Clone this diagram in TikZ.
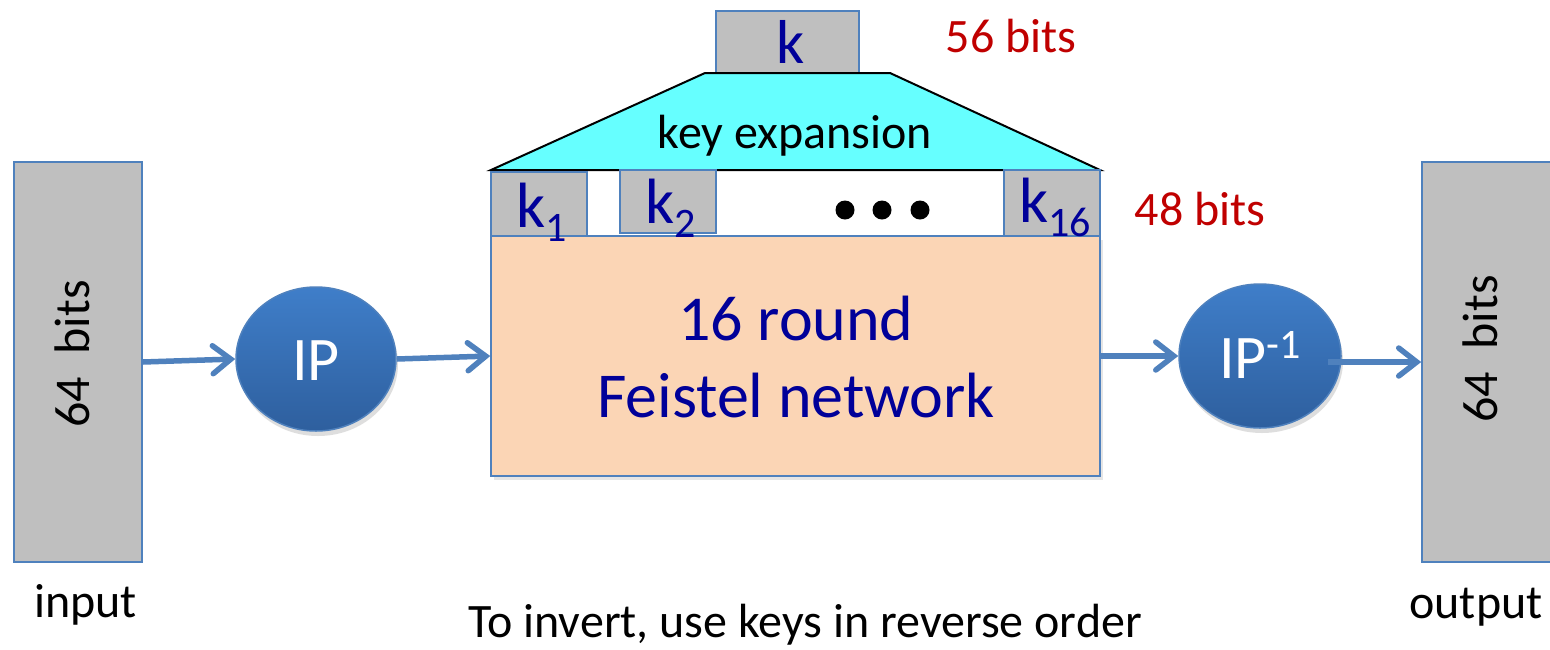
\documentclass[tikz,border=0pt]{standalone}
\usepackage{fontspec}
\setmainfont{Carlito}
\usetikzlibrary{arrows.meta,calc,shapes.geometric}

\definecolor{boxgray}{HTML}{BFBFBF}
\definecolor{edgeblue}{HTML}{4F81BD}
\definecolor{navytext}{HTML}{000099}
\definecolor{bitsred}{HTML}{C00000}
\definecolor{peach}{HTML}{FBD5B5}
\definecolor{keycyan}{HTML}{66FFFF}
\definecolor{balltop}{HTML}{3F7EC9}
\definecolor{ballbot}{HTML}{2E5F9E}

\newcommand\fsz[1]{\fontsize{#1}{#1}\selectfont}
\newcommand\ksub[1]{k\raisebox{-14pt}{\fsz{42}#1}}

\tikzset{
  graybox/.style={draw=edgeblue, line width=1.6pt, fill=boxgray, inner sep=0pt},
  ball/.style={ellipse, minimum width=160pt, minimum height=144pt, inner sep=0pt,
    draw=edgeblue, line width=1.5pt, top color=balltop, bottom color=ballbot},
  balltext/.style={text=white, font=\fsz{62}, inner sep=0pt, anchor=base},
  flow/.style={draw=edgeblue, line width=5.5pt,
    -{Straight Barb[length=18pt,width=28pt,line cap=round]}},
  keytext/.style={text=navytext, font=\fsz{64}, inner sep=0pt, anchor=base west},
  bitslabel/.style={text=bitsred, font=\fsz{48}, inner sep=0pt, anchor=base},
  caption/.style={text=black, font=\fsz{48}, inner sep=0pt, anchor=base},
  bigtext/.style={text=navytext, font=\fsz{64}, inner sep=0pt, anchor=base},
}

\begin{document}
\begin{tikzpicture}[x=1pt, y=-1pt]
  % canvas
  \fill[white] (0,0) rectangle (1550,649);
  \useasboundingbox (0,0) rectangle (1550,649);

  % input and output blocks
  \node[graybox, minimum width=128pt, minimum height=400pt] (in) at (78,362) {};
  \node[rotate=90, caption, font=\fsz{50}] (intext) at (89,354) {64\ \ bits};
  \node[graybox, minimum width=130pt, minimum height=400pt] (out) at (1487,362) {};
  \node[rotate=90, caption, font=\fsz{50}] (outtext) at (1497,349) {64\ \ bits};

  % permutations
  \fill[black!25, opacity=0.5] (318,364) ellipse (80pt and 72pt);
  \node[ball] (ip) at (316,359) {};
  \node[balltext] at (316,380) {IP};
  \fill[black!25, opacity=0.5] (1262,361) ellipse (81pt and 72pt);
  \node[ball, minimum width=162pt] (ipinv) at (1260,356) {};
  \node[balltext] at (1260,378) {IP\raisebox{20pt}{\fsz{42}-1}};

  % Feistel network block
  \fill[black!20, opacity=0.5] (494,240) rectangle (1103,480);
  \node[draw=edgeblue, line width=1.5pt, fill=peach, minimum width=609pt,
        minimum height=240pt, inner sep=0pt] (feistel) at (795.5,356) {};
  \node[bigtext] at (796,340) {16 round};
  \node[bigtext] at (796,417) {Feistel network};

  % key expansion
  \node[graybox, minimum width=143pt, minimum height=62pt] (k) at (787.5,42) {};
  \node[keytext, font=\fsz{62}] at (776,63) {k};
  \path[draw=black, line width=2pt, fill=keycyan]
    (705,73) coordinate (ka) -- (890,73) coordinate (kb)
    -- (1100,170) coordinate (kc) -- (491,170) coordinate (kd) -- cycle;
  \node[text=black, font=\fsz{48}, inner sep=0pt, anchor=base] (kexp) at (795,148) {key expansion};

  % round keys
  \node[graybox, minimum width=96pt, minimum height=64pt] (k1) at (539,204) {};
  \node[keytext] at (516,227) {\ksub{1}};
  \node[graybox, minimum width=96pt, minimum height=63pt] (k2) at (668,201.5) {};
  \node[keytext] at (645,223) {\ksub{2}};
  \node[graybox, minimum width=96pt, minimum height=66pt] (k16) at (1052,203) {};
  \node[keytext] at (1019,222) {\ksub{16}};
  \foreach \x/\n in {845/d1,882/d2,920/d3}
    \fill[black] (\x,210) circle (9.5pt) coordinate (\n);

  % sizes
  \node[bitslabel] (b56) at (1011,52) {56 bits};
  \node[bitslabel] (b48) at (1200,225) {48 bits};

  % captions
  \node[caption] (lin) at (85.5,617) {input};
  \node[caption] (lout) at (1476,618) {output};
  \node[caption] (note) at (805,637) {To invert, use keys in reverse order};

  % data flow
  \draw[flow] (in.east) -- (ip.west);
  \draw[flow] (ip.east) -- (feistel.west);
  \draw[flow] (feistel.east) -- (ipinv.west);
  \draw[flow] ([xshift=-14pt,yshift=-6pt]ipinv.east) -- (out.west);
\end{tikzpicture}
\end{document}
